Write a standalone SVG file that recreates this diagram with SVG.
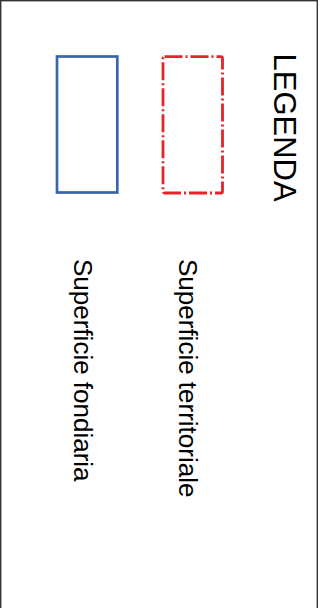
<svg xmlns="http://www.w3.org/2000/svg" width="324" height="608" viewBox="0 0 324 608">
<style>
.t{font-family:"Liberation Sans",Arial,sans-serif;fill:#000}
</style>
<rect x="0" y="0" width="324" height="608" fill="#fff"/>
<rect id="frame" x="0.7" y="0.7" width="316.6" height="640" fill="none" stroke="#333" stroke-width="1.4"/>
<g id="title"><text class="t" font-size="31" transform="translate(274,53.5) rotate(90)">LEGENDA</text></g>
<g id="fondiaria">
<rect x="57" y="56.5" width="60.3" height="136" fill="none" stroke="#3a63b0" stroke-width="2.7"/>
<text class="t" font-size="26" transform="translate(74,259) rotate(90)">Superficie fondiaria</text>
</g>
<g id="territoriale">
<rect x="163" y="56.7" width="59.5" height="136.3" rx="1.5" fill="none" stroke="#e3242b" stroke-width="2.8" stroke-dasharray="18 3 2 3"/>
<text class="t" font-size="26" transform="translate(179,259) rotate(90)">Superficie territoriale</text>
</g>
<g id="connectors"/>
</svg>
